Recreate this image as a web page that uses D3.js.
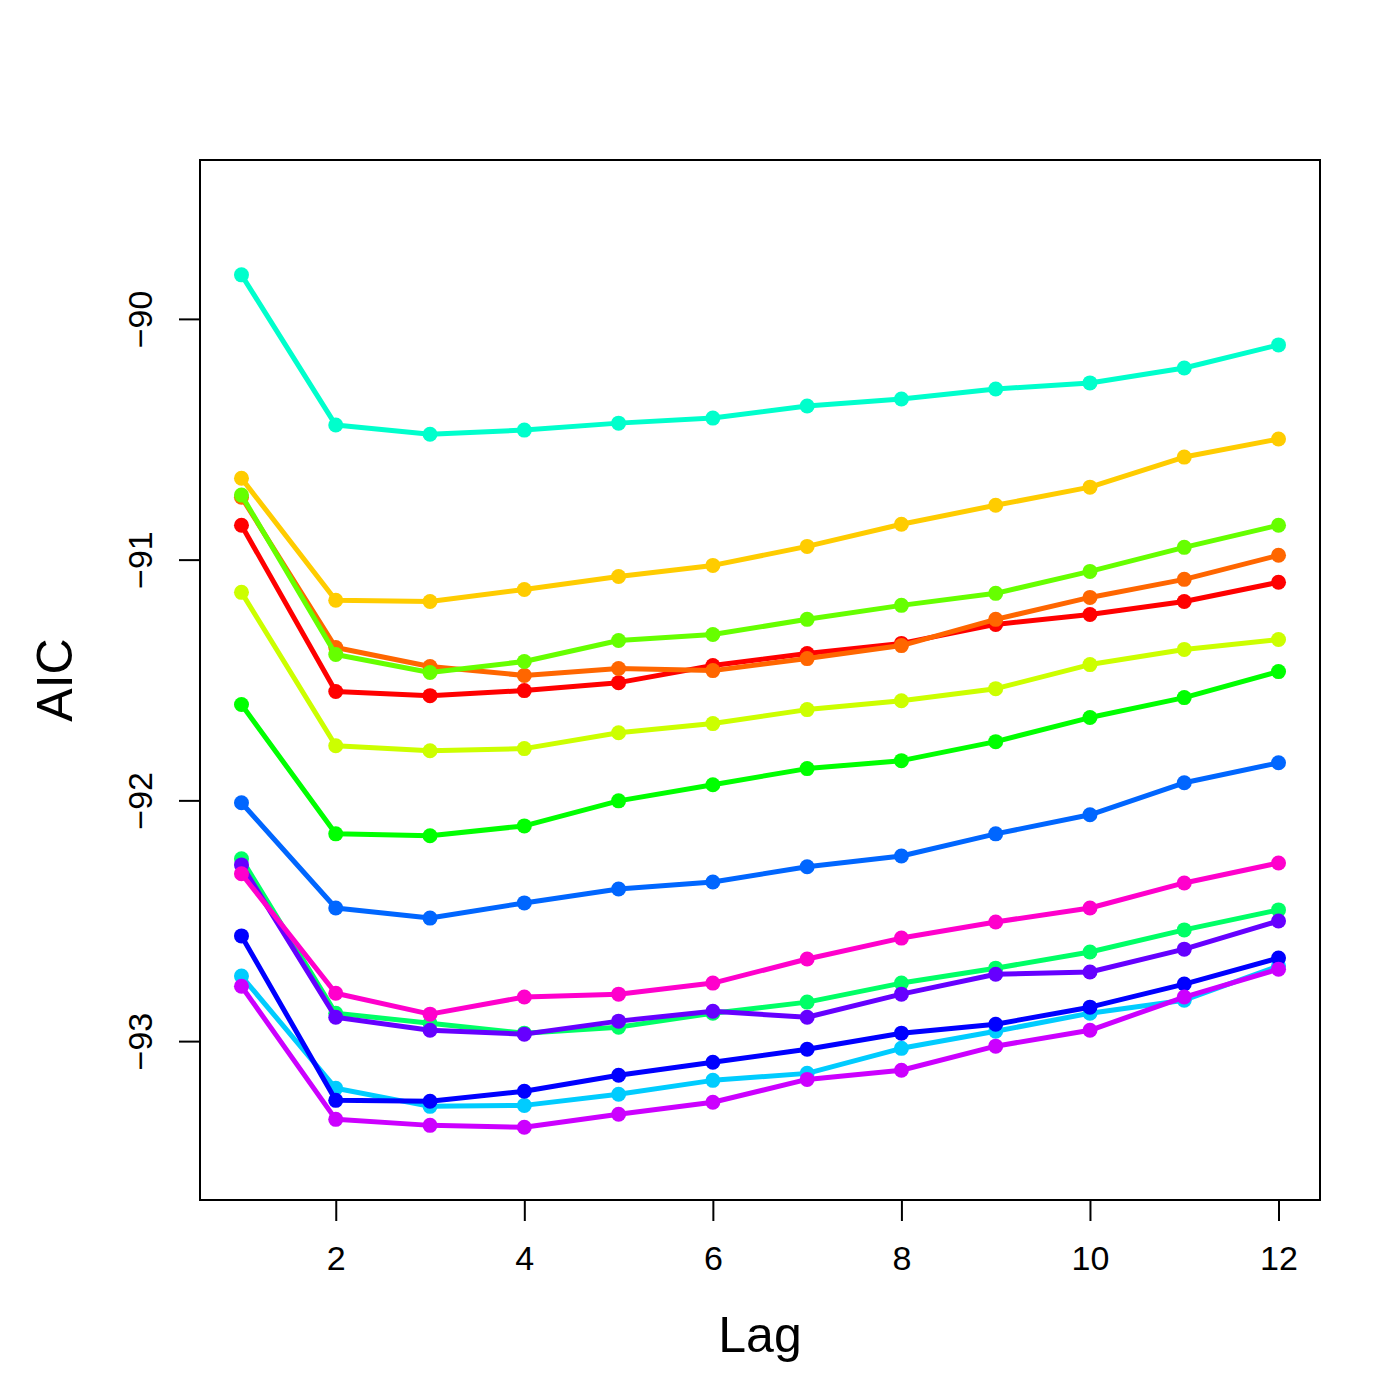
<!DOCTYPE html>
<html>
<head>
<meta charset="utf-8">
<script src="https://cdn.jsdelivr.net/npm/d3@7"></script>
<style>
  body { margin: 0; background: #fff; }
  text { font-family: "Liberation Sans Narrow", "Liberation Sans", Arial, sans-serif; fill: #000; }
</style>
</head>
<body>
<svg width="1400" height="1400"></svg>
<script>
// lags on the x axis
var lags = [1, 2, 3, 4, 5, 6, 7, 8, 9, 10, 11, 12];

// AIC per model (one array per line)
var aicRed     = [-90.857, -91.548, -91.565, -91.544, -91.511, -91.440, -91.390, -91.348, -91.269, -91.228, -91.174, -91.094];
var aicOrange  = [-90.741, -91.365, -91.444, -91.481, -91.452, -91.461, -91.411, -91.357, -91.248, -91.157, -91.082, -90.982];
var aicYellow  = [-90.662, -91.169, -91.174, -91.124, -91.070, -91.024, -90.945, -90.853, -90.774, -90.699, -90.574, -90.499];
var aicLime    = [-91.136, -91.773, -91.794, -91.785, -91.719, -91.681, -91.623, -91.586, -91.536, -91.436, -91.373, -91.332];
var aicChart   = [-90.732, -91.394, -91.469, -91.423, -91.336, -91.311, -91.248, -91.190, -91.140, -91.049, -90.949, -90.857];
var aicGreen   = [-91.602, -92.139, -92.147, -92.106, -92.002, -91.935, -91.868, -91.835, -91.756, -91.656, -91.573, -91.465];
var aicMint    = [-92.243, -92.884, -92.926, -92.967, -92.942, -92.884, -92.838, -92.759, -92.697, -92.630, -92.538, -92.455];
var aicCyan    = [-89.817, -90.441, -90.479, -90.462, -90.433, -90.412, -90.362, -90.333, -90.291, -90.266, -90.204, -90.108];
var aicSky     = [-92.730, -93.196, -93.271, -93.267, -93.221, -93.163, -93.134, -93.030, -92.959, -92.884, -92.830, -92.688];
var aicAzure   = [-92.010, -92.447, -92.489, -92.426, -92.368, -92.339, -92.276, -92.231, -92.139, -92.060, -91.927, -91.844];
var aicBlue    = [-92.563, -93.246, -93.250, -93.208, -93.142, -93.088, -93.034, -92.967, -92.930, -92.859, -92.763, -92.655];
var aicPurple  = [-92.268, -92.901, -92.955, -92.971, -92.917, -92.876, -92.901, -92.805, -92.722, -92.713, -92.618, -92.501];
var aicViolet  = [-92.772, -93.325, -93.350, -93.358, -93.304, -93.254, -93.159, -93.121, -93.021, -92.955, -92.817, -92.701];
var aicPink    = [-92.305, -92.801, -92.888, -92.817, -92.805, -92.759, -92.659, -92.572, -92.505, -92.447, -92.343, -92.260];

var seriesList = [aicRed, aicOrange, aicYellow, aicLime, aicChart, aicGreen, aicMint,
                  aicCyan, aicSky, aicAzure, aicBlue, aicPurple, aicViolet, aicPink];
var colors = ["#FF0000", "#FF6600", "#FFCC00", "#CCFF00", "#66FF00", "#00FF00", "#00FF66",
              "#00FFCC", "#00CCFF", "#0066FF", "#0000FF", "#6600FF", "#CC00FF", "#FF00CC"];

var xTicks = [2, 4, 6, 8, 10, 12];
var yTicks = [-93, -92, -91, -90];
var xlim = [1, 12], ylim = [-93.5, -89.5];

var svg = d3.select("svg");
var box = {left: 200, right: 1320, top: 160, bottom: 1200};

// R style: pad the limits by 4% each side
function pad(lim) {
  var d = (lim[1] - lim[0]) * 0.04;
  return [lim[0] - d, lim[1] + d];
}

var x = d3.scaleLinear().domain(pad(xlim)).range([box.left, box.right]);
var y = d3.scaleLinear().domain(pad(ylim)).range([box.bottom, box.top]);

// lines + points, drawn in order so later series sit on top
var line = d3.line().x((d, i) => x(lags[i])).y(d => y(d));

seriesList.forEach(function(vals, k) {
  var g = svg.append("g");
  g.append("path")
    .attr("d", line(vals))
    .attr("fill", "none")
    .attr("stroke", colors[k])
    .attr("stroke-width", 5)
    .attr("stroke-linejoin", "round");
  g.selectAll("circle")
    .data(vals)
    .join("circle")
    .attr("cx", (d, i) => x(lags[i]))
    .attr("cy", d => y(d))
    .attr("r", 7.5)
    .attr("fill", colors[k]);
});

// frame
svg.append("rect")
  .attr("x", box.left).attr("y", box.top)
  .attr("width", box.right - box.left).attr("height", box.bottom - box.top)
  .attr("fill", "none").attr("stroke", "#000").attr("stroke-width", 2);

// x axis
var xAxis = svg.append("g")
  .attr("transform", "translate(0," + box.bottom + ")")
  .call(d3.axisBottom(x).tickValues(xTicks).tickSize(21).tickPadding(25).tickFormat(d3.format("d")));
xAxis.select(".domain").remove();
xAxis.selectAll("line").attr("stroke-width", 2);
xAxis.selectAll("text").attr("font-size", 34).attr("font-family", null);

// y axis, labels rotated like R's las = 0
var yAxis = svg.append("g")
  .attr("transform", "translate(" + box.left + ",0)")
  .call(d3.axisLeft(y).tickValues(yTicks).tickSize(21).tickFormat(d => "\u2212" + Math.abs(d)));
yAxis.select(".domain").remove();
yAxis.selectAll("line").attr("stroke-width", 2);
yAxis.selectAll("text")
  .attr("font-size", 34).attr("font-family", null)
  .attr("x", null).attr("dy", null)
  .attr("text-anchor", "middle")
  .attr("dominant-baseline", "central")
  .attr("transform", "translate(-60,0) rotate(-90)");

// titles
svg.append("text")
  .attr("x", (box.left + box.right) / 2).attr("y", 1335)
  .attr("text-anchor", "middle").attr("dominant-baseline", "central")
  .attr("font-size", 50)
  .text("Lag");

svg.append("text")
  .attr("transform", "translate(55," + (box.top + box.bottom) / 2 + ") rotate(-90)")
  .attr("text-anchor", "middle").attr("dominant-baseline", "central")
  .attr("font-size", 50)
  .text("AIC");
</script>
</body>
</html>
